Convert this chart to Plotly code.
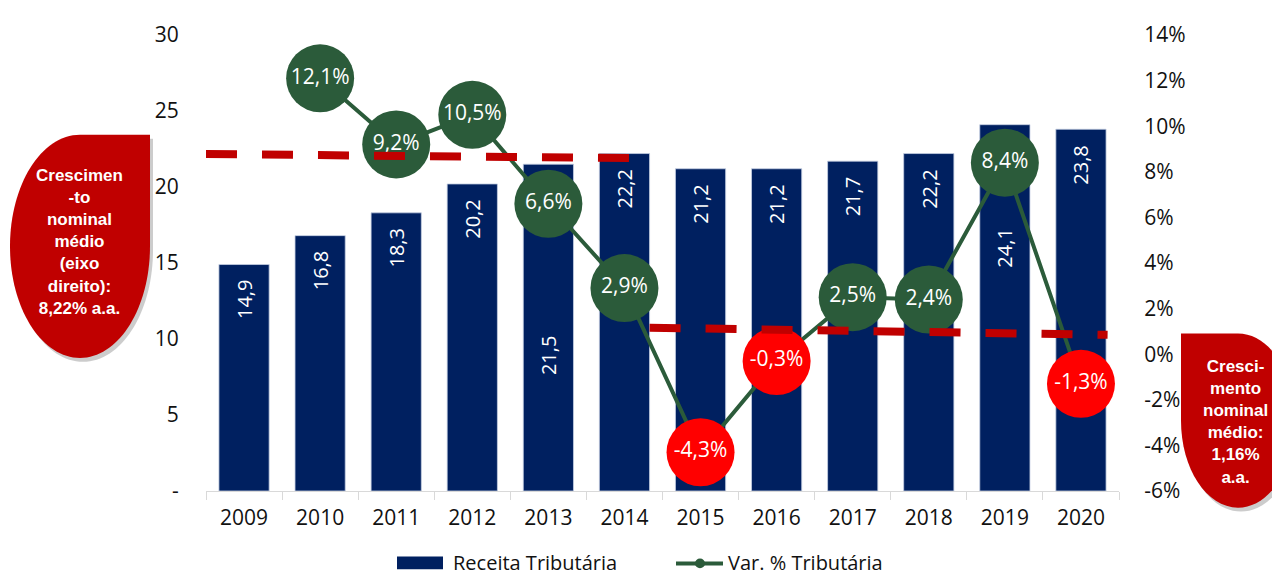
import plotly.graph_objects as go

YEARS = ["2009", "2010", "2011", "2012", "2013", "2014",
         "2015", "2016", "2017", "2018", "2019", "2020"]
RECEITA = [14.9, 16.8, 18.3, 20.2, 21.5, 22.2, 21.2, 21.2, 21.7, 22.2, 24.1, 23.8]
VAR_YEARS = YEARS[1:]
VAR_PCT = [12.1, 9.2, 10.5, 6.6, 2.9, -4.3, -0.3, 2.5, 2.4, 8.4, -1.3]

LEFT_TICKS = [0, 5, 10, 15, 20, 25, 30]
LEFT_TICKTEXT = ["-", "5", "10", "15", "20", "25", "30"]
RIGHT_TICKS = [-6, -4, -2, 0, 2, 4, 6, 8, 10, 12, 14]
RIGHT_TICKTEXT = ["%d%%" % v for v in RIGHT_TICKS]

# trend lines (right axis, %), x as category position
TREND_HIGH_X = [-0.5, 5.07]
TREND_HIGH_Y = [8.78, 8.60]
TREND_LOW_X = [5.33, 11.35]
TREND_LOW_Y = [1.16, 0.85]

# bar labels moved off the bar top (left axis value of label centre)
LABEL_MOVED = {"2013": 8.9, "2019": 16.0}

NAVY = "#002060"
GREEN = "#2B5B3A"
RED = "#FF0000"
DARK_RED = "#C00000"
FONT = "Open Sans"
TXT = "#111111"

# page body has an 8px margin; plot area given in screen pixels
OFF = 8
W, H = 1280, 577
PL, PR, PT, PB = 206, 1119, 25, 491


def paper(x, y):
    return (x - PL) / (PR - PL), (PB - y) / (PB - PT)


def path_from(points):
    out = []
    for cmd, pts in points:
        coords = " ".join("%.5f,%.5f" % paper(x, y) for x, y in pts)
        out.append(cmd + coords)
    return " ".join(out) + " Z"


def drop_path(cx, cy, rx, ry, corner, dx=0, dy=0):
    k = 0.5523
    cx, cy = cx + dx, cy + dy
    top, bot = cy - ry, cy + ry
    left, right = cx - rx, cx + rx
    if corner == "tr":
        pts = [
            ("M", [(cx, top)]),
            ("L", [(right, top)]),
            ("L", [(right, cy)]),
            ("C", [(right, cy + k * ry), (cx + k * rx, bot), (cx, bot)]),
            ("C", [(cx - k * rx, bot), (left, cy + k * ry), (left, cy)]),
            ("C", [(left, cy - k * ry), (cx - k * rx, top), (cx, top)]),
        ]
    else:
        pts = [
            ("M", [(cx, top)]),
            ("C", [(cx + k * rx, top), (right, cy - k * ry), (right, cy)]),
            ("C", [(right, cy + k * ry), (cx + k * rx, bot), (cx, bot)]),
            ("C", [(cx - k * rx, bot), (left, cy + k * ry), (left, cy)]),
            ("L", [(left, top)]),
        ]
    return path_from(pts)


fig = go.Figure()

fig.add_trace(
    go.Bar(
        x=YEARS,
        y=RECEITA,
        name="Receita Tributária",
        marker=dict(color=NAVY, line=dict(color="#C5CFE2", width=0.8)),
        yaxis="y",
        showlegend=False,
        hoverinfo="x+y",
    )
)

fig.add_trace(
    go.Scatter(
        x=VAR_YEARS,
        y=VAR_PCT,
        name="Var. % Tributária",
        mode="lines+markers+text",
        yaxis="y2",
        line=dict(color=GREEN, width=4),
        marker=dict(
            size=68,
            color=[GREEN if v >= 0 else RED for v in VAR_PCT],
            line=dict(width=0),
        ),
        text=[("%.1f" % v).replace(".", ",") + "%" for v in VAR_PCT],
        textposition="middle center",
        textfont=dict(family=FONT, size=21, color="white"),
        showlegend=False,
    )
)

shapes = []
for xs, ys in ((TREND_HIGH_X, TREND_HIGH_Y), (TREND_LOW_X, TREND_LOW_Y)):
    shapes.append(dict(
        type="line", xref="x", yref="y2",
        x0=xs[0], x1=xs[1], y0=ys[0], y1=ys[1],
        line=dict(color=DARK_RED, width=8, dash="31px,25px"),
        layer="above",
    ))

# callouts with a soft shadow
for cx, cy, rx, ry, corner in ((80, 241, 70, 114, "tr"), (1238, 419, 57, 89, "tl")):
    shapes.append(dict(
        type="path", xref="paper", yref="paper",
        path=drop_path(cx, cy, rx, ry, corner, 3, 4),
        fillcolor="rgba(0,0,0,0.2)", line=dict(width=0), layer="above",
    ))
    shapes.append(dict(
        type="path", xref="paper", yref="paper",
        path=drop_path(cx, cy, rx, ry, corner),
        fillcolor=DARK_RED, line=dict(width=0), layer="above",
    ))

# custom legend
LEG_Y = 565
x0, y0 = paper(397, LEG_Y - 7)
x1, y1 = paper(443, LEG_Y + 6)
shapes.append(dict(type="rect", xref="paper", yref="paper",
                   x0=x0, x1=x1, y0=y0, y1=y1,
                   fillcolor=NAVY, line=dict(width=0)))
lx0, ly = paper(676, LEG_Y)
lx1, _ = paper(723, LEG_Y)
shapes.append(dict(type="line", xref="paper", yref="paper",
                   x0=lx0, x1=lx1, y0=ly, y1=ly,
                   line=dict(color=GREEN, width=4)))
mx0, my0 = paper(695, LEG_Y - 5)
mx1, my1 = paper(705, LEG_Y + 5)
shapes.append(dict(type="circle", xref="paper", yref="paper",
                   x0=mx0, x1=mx1, y0=my0, y1=my1,
                   fillcolor=GREEN, line=dict(width=0)))

annotations = []
for i, (year, val) in enumerate(zip(YEARS, RECEITA)):
    label = ("%.1f" % val).replace(".", ",")
    if year in LABEL_MOVED:
        annotations.append(dict(
            x=i, y=LABEL_MOVED[year], xref="x", yref="y",
            text=label, textangle=-90, showarrow=False,
            yanchor="middle", font=dict(family=FONT, size=20, color="white"),
        ))
    else:
        annotations.append(dict(
            x=i, y=val, xref="x", yref="y",
            text=label, textangle=-90, showarrow=False,
            yanchor="top", yshift=-14,
            font=dict(family=FONT, size=20, color="white"),
        ))

tx, ty = paper(80, 237)
annotations.append(dict(
    x=tx, y=ty, xref="paper", yref="paper", showarrow=False,
    text="<b>Crescimen<br>-to<br>nominal<br>médio<br>(eixo<br>direito):<br>8,22% a.a.</b>",
    font=dict(family="Liberation Sans", size=17, color="white"),
    align="center", xanchor="center", yanchor="middle",
))
tx, ty = paper(1235, 420)
annotations.append(dict(
    x=tx, y=ty, xref="paper", yref="paper", showarrow=False,
    text="<b>Cresci-<br>mento<br>nominal<br>médio:<br>1,16%<br>a.a.</b>",
    font=dict(family="Liberation Sans", size=17, color="white"),
    align="center", xanchor="center", yanchor="middle",
))

for px_x, label in ((452, "Receita Tributária"), (727, "Var. % Tributária")):
    ax_, ay_ = paper(px_x, LEG_Y - 1)
    annotations.append(dict(
        x=ax_, y=ay_, xref="paper", yref="paper", showarrow=False,
        text=label, xanchor="left", yanchor="middle", borderpad=0,
        font=dict(family=FONT, size=20, color=TXT),
    ))

fig.update_layout(
    width=W - OFF,
    height=H - OFF,
    margin=dict(l=PL - OFF, r=W - PR, t=PT - OFF, b=H - PB),
    paper_bgcolor="white",
    plot_bgcolor="white",
    bargap=0.34,
    showlegend=False,
    shapes=shapes,
    annotations=annotations,
    font=dict(family=FONT, size=21, color=TXT),
    xaxis=dict(
        type="category",
        range=[-0.5, 11.5],
        showline=True,
        linecolor="#D9D9D9",
        linewidth=1,
        ticks="outside",
        tickson="boundaries",
        ticklen=8,
        tickcolor="#D9D9D9",
        ticklabelstandoff=8,
        showgrid=False,
        tickfont=dict(family=FONT, size=21, color=TXT),
    ),
    yaxis=dict(
        range=[0, 30],
        tickvals=LEFT_TICKS,
        ticktext=LEFT_TICKTEXT,
        showgrid=False,
        zeroline=False,
        showline=False,
        ticks="outside",
        ticklen=22,
        tickcolor="rgba(0,0,0,0)",
        tickfont=dict(family=FONT, size=21, color=TXT),
    ),
    yaxis2=dict(
        range=[-6, 14],
        overlaying="y",
        side="right",
        tickvals=RIGHT_TICKS,
        ticktext=RIGHT_TICKTEXT,
        showgrid=False,
        zeroline=False,
        showline=False,
        ticks="outside",
        ticklen=20,
        tickcolor="rgba(0,0,0,0)",
        tickfont=dict(family=FONT, size=21, color=TXT),
    ),
)

fig.write_html("out.html")
